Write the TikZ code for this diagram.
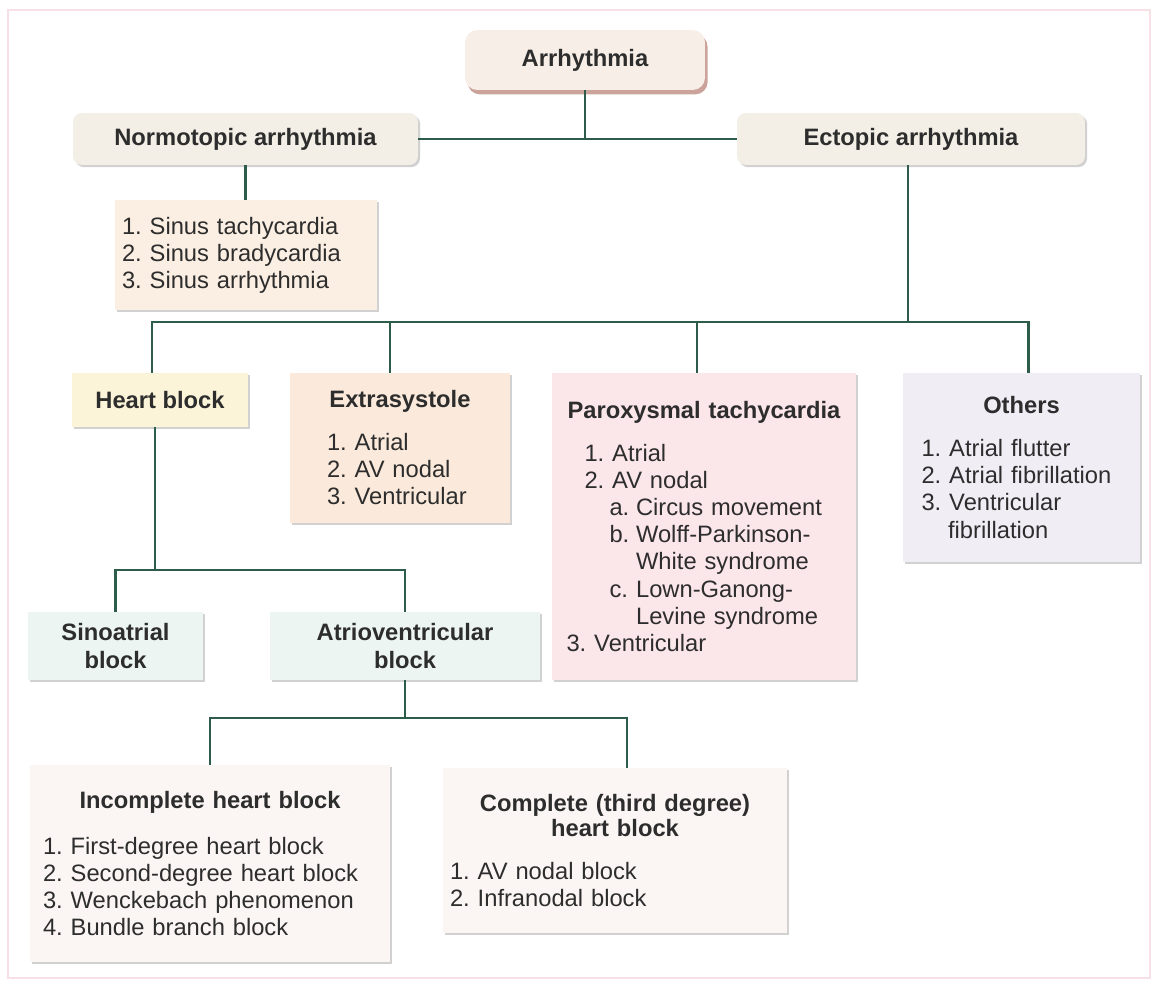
\documentclass[tikz,border=0pt]{standalone}
\usepackage{fontspec}
\setmainfont{Liberation Sans}
\usetikzlibrary{shadows}
\frenchspacing

\definecolor{linkgreen}{RGB}{46,92,74}
\definecolor{txtgray}{RGB}{45,45,45}
\definecolor{topfill}{RGB}{247,239,231}
\definecolor{topshadow}{RGB}{190,140,130}
\definecolor{branchfill}{RGB}{243,238,230}
\definecolor{peachfill}{RGB}{251,238,226}
\definecolor{yellowfill}{RGB}{252,244,216}
\definecolor{extrafill}{RGB}{251,234,219}
\definecolor{pinkfill}{RGB}{251,230,234}
\definecolor{lilacfill}{RGB}{240,237,245}
\definecolor{tealfill}{RGB}{237,245,243}
\definecolor{palefill}{RGB}{251,246,243}
\definecolor{framepink}{RGB}{248,225,230}

\newcommand{\nlab}[1]{\makebox[1.12em][l]{#1}}

\begin{document}
\begin{tikzpicture}[x=0.02cm,y=-0.02cm,
  font=\fontsize{13.5pt}{15.4pt}\selectfont,
  every node/.style={text=txtgray},
  plate/.style={inner sep=0pt,drop shadow={shadow xshift=1.2pt,shadow yshift=-1.2pt,opacity=0.3,fill=black!60}},
  headbox/.style={plate,font=\fontsize{13.5pt}{15.4pt}\selectfont\bfseries,align=center},
  listbox/.style={plate,align=left},
  link/.style={draw=linkgreen,line width=1.6pt}]
\useasboundingbox (0,0) rectangle (1156,984);
\draw[framepink,line width=1.2pt] (8,10) rectangle (1150,978);

% top levels
\node[inner sep=0pt,font=\fontsize{13.5pt}{15.4pt}\selectfont\bfseries,fill=topfill,rounded corners=7pt,
  drop shadow={shadow xshift=1.5pt,shadow yshift=-2.5pt,opacity=0.8,fill=topshadow},
  minimum width=4.8cm,minimum height=1.2cm] (arr) at (585,60) {Arrhythmia};
\node[headbox,fill=branchfill,rounded corners=5pt,minimum width=6.9cm,minimum height=1.04cm] (normo) at (245.5,139) {Normotopic arrhythmia};
\node[headbox,fill=branchfill,rounded corners=5pt,minimum width=6.96cm,minimum height=1.04cm] (ecto) at (911,139) {Ectopic arrhythmia};
\node[listbox,fill=peachfill,text width=4.96cm,minimum width=5.24cm,minimum height=2.2cm] (sinus) at (246,255)
  {1. Sinus tachycardia\\2. Sinus bradycardia\\3. Sinus arrhythmia};

% ectopic branches
\node[headbox,fill=yellowfill,minimum width=3.52cm,minimum height=1.08cm] (heart) at (160,400) {Heart block};
\node[listbox,fill=extrafill,text width=2.92cm,minimum width=4.4cm,minimum height=3cm] (extra) at (400,448)
  {{\centering\bfseries Extrasystole\par}\vspace{9pt}1. Atrial\\2. AV nodal\\3. Ventricular};
\node[listbox,fill=pinkfill,text width=5.5cm,minimum width=6.08cm,minimum height=6.14cm] (parox) at (704,526.5)
  {{\centering\bfseries Paroxysmal tachycardia\par}\vspace{9pt}\leftskip=0.36cm
   1. Atrial\\2. AV nodal\\
   \hspace*{0.5cm}\nlab{a.}Circus movement\\
   \hspace*{0.5cm}\nlab{b.}Wolff-Parkinson-\\
   \hspace*{0.5cm}\nlab{}White syndrome\\
   \hspace*{0.5cm}\nlab{c.}Lown-Ganong-\\
   \hspace*{0.5cm}\nlab{}Levine syndrome\\
   3. Ventricular};
\node[listbox,fill=lilacfill,text width=4cm,minimum width=4.74cm,minimum height=3.78cm] (others) at (1021.5,467.5)
  {{\centering\bfseries Others\par}\vspace{9pt}1. Atrial flutter\\2. Atrial fibrillation\\3. Ventricular\\\nlab{}fibrillation};

% heart block
\node[headbox,fill=tealfill,minimum width=3.5cm,minimum height=1.36cm] (sa) at (115.5,646) {Sinoatrial\\block};
\node[headbox,fill=tealfill,minimum width=5.4cm,minimum height=1.36cm] (av) at (405,646) {Atrioventricular\\block};
\node[listbox,fill=palefill,text width=6.68cm,minimum width=7.2cm,minimum height=3.94cm] (inc) at (210,863.5)
  {{\centering\bfseries Incomplete heart block\par}\vspace{11pt}1. First-degree heart block\\2. Second-degree heart block\\3. Wenckebach phenomenon\\4. Bundle branch block};
\node[listbox,fill=palefill,text width=6.6cm,minimum width=6.88cm,minimum height=3.3cm] (comp) at (615,850.5)
  {{\centering\bfseries Complete (third degree)\\[-1pt]heart block\par}\vspace{9pt}1. AV nodal block\\2. Infranodal block};

% connectors
\coordinate (bus) at (908,322);
\coordinate (hbus) at (0,570);
\coordinate (avbus) at (0,718);
\draw[link] (arr.south) -- (arr.south |- normo.east);
\draw[link] (normo.east) -- (ecto.west);
\draw[link] (normo.south) -- (normo.south |- sinus.north);
\draw[link] ([xshift=-0.06cm]ecto.south) -- ([xshift=-0.06cm]ecto.south |- bus);
\draw[link] ([xshift=-0.16cm]heart.north) -- ([xshift=-0.16cm]heart.north |- bus)
  -- ([xshift=0.14cm]others.north |- bus) -- ([xshift=0.14cm]others.north);
\draw[link] ([xshift=-0.2cm]extra.north |- bus) -- ([xshift=-0.2cm]extra.north);
\draw[link] ([xshift=-0.14cm]parox.north |- bus) -- ([xshift=-0.14cm]parox.north);
\draw[link] ([xshift=-0.1cm]heart.south) -- ([xshift=-0.1cm]heart.south |- hbus);
\draw[link] (sa.north) -- (sa.north |- hbus) -- (av.north |- hbus) -- (av.north);
\draw[link] (av.south) -- (av.south |- avbus);
\draw[link] (inc.north) -- (inc.north |- avbus) -- ([xshift=0.24cm]comp.north |- avbus) -- ([xshift=0.24cm]comp.north);
\end{tikzpicture}
\end{document}
